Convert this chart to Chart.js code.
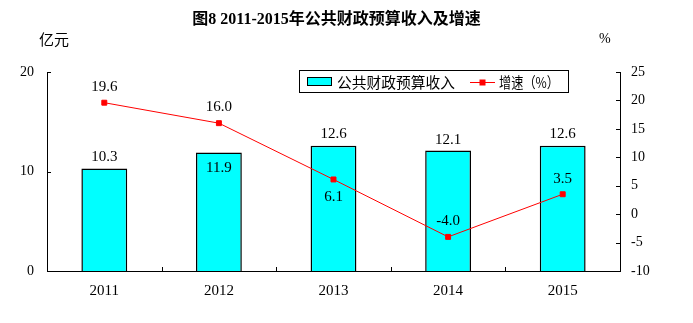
<!DOCTYPE html>
<html>
<head>
<meta charset="utf-8">
<script src="https://cdn.jsdelivr.net/npm/chart.js@4"></script>
<style>
html,body{margin:0;padding:0;background:#fff;}
canvas{display:block;}
</style>
</head>
<body>
<canvas id="c" width="693" height="323"></canvas>
<script>
// ---- data ----
const categories = ['2011', '2012', '2013', '2014', '2015'];
const revenue = [10.3, 11.9, 12.6, 12.1, 12.6];      // 公共财政预算收入 (亿元)
const growth = [19.6, 16.0, 6.1, -4.0, 3.5];         // 增速 (%)
const revenueLabels = ['10.3', '11.9', '12.6', '12.1', '12.6'];
const growthLabels = ['19.6', '16.0', '6.1', '-4.0', '3.5'];
const leftTicks = [0, 10, 20];
const rightTicks = [-10, -5, 0, 5, 10, 15, 20, 25];
const titleText = '图8 2011-2015年公共财政预算收入及增速';
const leftUnit = '亿元';
const rightUnit = '%';
const seriesNames = ['公共财政预算收入', '增速（%）'];

// ---- styling ----
const SERIF = '"Liberation Serif", "Noto Sans CJK SC", serif';
const CJK = '"Noto Sans CJK SC", "Liberation Serif", sans-serif';
const barLabelDy = [-11, 15, -12, -11, -12];
const lineLabelDy = [-16, -16, 18, -16, -15];

const decorPlugin = {
  id: 'decor',
  afterDatasetsDraw(chart) {
    const ctx = chart.ctx;
    const xs = chart.scales.x, ys = chart.scales.y, y2 = chart.scales.y2;
    const area = chart.chartArea;
    ctx.save();
    // inward tick marks
    ctx.strokeStyle = '#000';
    ctx.lineWidth = 1;
    ctx.beginPath();
    leftTicks.forEach(v => {
      const py = Math.round(ys.getPixelForValue(v)) + 0.5;
      ctx.moveTo(area.left, py); ctx.lineTo(area.left + 4, py);
    });
    rightTicks.forEach(v => {
      const py = Math.round(y2.getPixelForValue(v)) + 0.5;
      ctx.moveTo(area.right, py); ctx.lineTo(area.right - 4, py);
    });
    for (let i = 1; i < categories.length; i++) {
      const px = Math.round((xs.getPixelForValue(i - 1) + xs.getPixelForValue(i)) / 2) + 0.5;
      ctx.moveTo(px, area.bottom); ctx.lineTo(px, area.bottom - 4);
    }
    ctx.stroke();

    // data labels
    ctx.fillStyle = '#000';
    ctx.font = '15px ' + SERIF;
    ctx.textAlign = 'center';
    ctx.textBaseline = 'middle';
    const barMeta = chart.getDatasetMeta(0);
    barMeta.data.forEach((el, i) => {
      ctx.fillText(revenueLabels[i], el.x, el.y + barLabelDy[i]);
    });
    const lineMeta = chart.getDatasetMeta(1);
    lineMeta.data.forEach((el, i) => {
      ctx.fillText(growthLabels[i], el.x, el.y + lineLabelDy[i]);
    });

    // title
    ctx.font = 'bold 16px ' + SERIF;
    ctx.fillText(titleText, 336.5, 20);

    // units
    ctx.font = '15px ' + CJK;
    ctx.textAlign = 'left';
    ctx.fillText(leftUnit, 39, 39);
    ctx.font = '14px ' + SERIF;
    ctx.fillText(rightUnit, 599, 39);

    // legend
    ctx.strokeStyle = '#000';
    ctx.lineWidth = 1;
    ctx.strokeRect(299.5, 70.5, 269, 22);
    ctx.fillStyle = '#00FFFF';
    ctx.fillRect(307.5, 77.5, 24, 8);
    ctx.strokeRect(307.5, 77.5, 24, 8);
    ctx.fillStyle = '#000';
    ctx.font = '15px ' + CJK;
    ctx.textAlign = 'left';
    ctx.fillText(seriesNames[0], 337, 82, 118);
    ctx.strokeStyle = '#FF0000';
    ctx.beginPath();
    ctx.moveTo(470, 82.5); ctx.lineTo(495, 82.5);
    ctx.stroke();
    ctx.fillStyle = '#FF0000';
    ctx.fillRect(479.5, 79.5, 6, 6);
    ctx.fillStyle = '#000';
    ctx.fillText(seriesNames[1], 499, 82, 60);
    ctx.restore();
  }
};

new Chart(document.getElementById('c'), {
  data: {
    labels: categories,
    datasets: [
      {
        type: 'bar',
        label: seriesNames[0],
        data: revenue,
        yAxisID: 'y',
        backgroundColor: '#00FFFF',
        borderColor: '#000000',
        borderWidth: 1.5,
        barPercentage: 0.4,
        categoryPercentage: 1.0,
        order: 1
      },
      {
        type: 'line',
        label: seriesNames[1],
        data: growth,
        yAxisID: 'y2',
        borderColor: '#FF0000',
        backgroundColor: '#FF0000',
        borderWidth: 1,
        pointStyle: 'rect',
        pointRadius: 3.5,
        pointBorderWidth: 1,
        tension: 0,
        fill: false,
        order: 0
      }
    ]
  },
  options: {
    responsive: false,
    devicePixelRatio: 1,
    animation: false,
    events: [],
    layout: { padding: { top: 72, left: 0, right: 0, bottom: 0 } },
    plugins: {
      legend: { display: false },
      title: { display: false },
      tooltip: { enabled: false }
    },
    scales: {
      x: {
        type: 'category',
        offset: true,
        grid: { display: false, drawTicks: false },
        border: { display: true, color: '#000', width: 1 },
        ticks: { color: '#000', font: { family: SERIF, size: 15 }, padding: 11, maxRotation: 0 },
        afterFit(s) { s.height = 52; }
      },
      y: {
        type: 'linear',
        position: 'left',
        min: 0, max: 20,
        afterBuildTicks(s) { s.ticks = leftTicks.map(v => ({ value: v })); },
        grid: { display: false, drawTicks: false },
        border: { display: true, color: '#000', width: 1 },
        ticks: { color: '#000', font: { family: SERIF, size: 14 }, padding: 13 },
        afterFit(s) { s.width = 47; }
      },
      y2: {
        type: 'linear',
        position: 'right',
        min: -10, max: 25,
        afterBuildTicks(s) { s.ticks = rightTicks.map(v => ({ value: v })); },
        grid: { display: false, drawTicks: false },
        border: { display: true, color: '#000', width: 1 },
        ticks: { color: '#000', font: { family: SERIF, size: 14 }, padding: 11 },
        afterFit(s) { s.width = 73; }
      }
    }
  },
  plugins: [decorPlugin]
});
</script>
</body>
</html>
